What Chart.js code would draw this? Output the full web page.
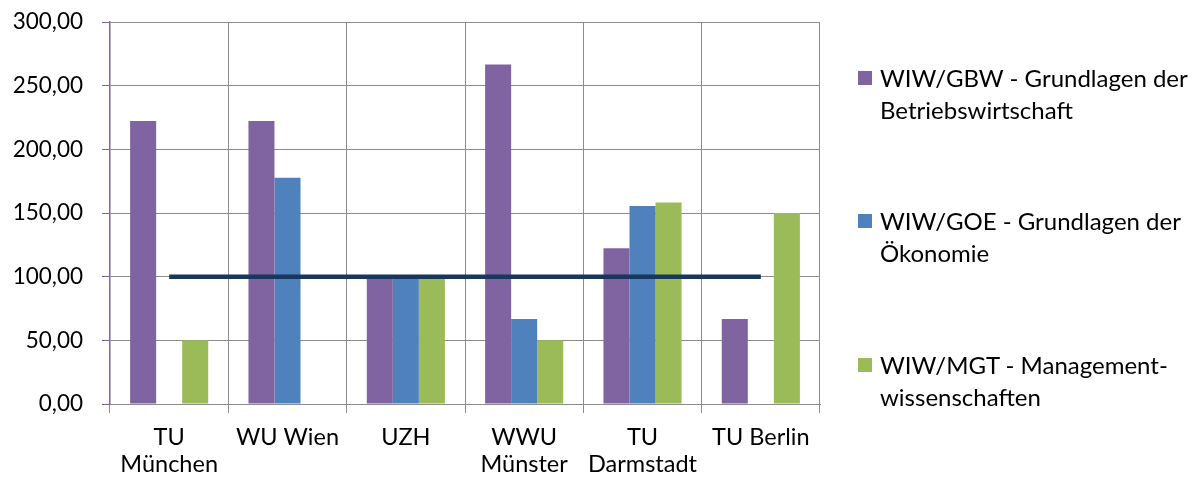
<!DOCTYPE html>
<html>
<head>
<meta charset="utf-8">
<script src="https://cdn.jsdelivr.net/npm/chart.js@4/dist/chart.umd.min.js"></script>
<style>
  html, body { margin: 0; padding: 0; background: #fff; }
  #wrap { position: relative; width: 1195px; height: 484px; }
  #c { position: absolute; left: 0; top: 0; }
  .lg { position: absolute; left: 858px; font-family: Lato, "Open Sans", sans-serif; font-size: 24px; line-height: 32px; color: #000; white-space: pre; }
  .lg .sw { position: absolute; left: 0; top: 9px; width: 14px; height: 14px; }
  .lg .tx { position: absolute; left: 22px; top: 0; }
</style>
</head>
<body>
<div id="wrap">
  <canvas id="c" width="1195" height="484"></canvas>
</div>
<script>
const categories = [["TU", "München"], "WU Wien", "UZH", ["WWU", "Münster"], ["TU", "Darmstadt"], "TU Berlin"];
const seriesNames = [
  "WIW/GBW - Grundlagen der\nBetriebswirtschaft",
  "WIW/GOE - Grundlagen der\nÖkonomie",
  "WIW/MGT - Management-\nwissenschaften"
];
const gbwValues = [222.22, 222.22, 100, 266.67, 122.22, 66.67];
const goeValues = [0, 177.78, 100, 66.67, 155.56, 0];
const mgtValues = [50, 0, 100, 50, 158.33, 150];
const referenceValues = [100, 100, 100, 100, 100, 100];
const seriesColors = ["#8064A2", "#4F81BD", "#9BBB59"];
const yMin = 0, yMax = 300, yStep = 50;

const FONT = 'Lato, "Open Sans", sans-serif';
const barSeries = [gbwValues, goeValues, mgtValues];

const datasets = barSeries.map((vals, i) => ({
  type: 'bar',
  label: seriesNames[i],
  data: vals,
  backgroundColor: seriesColors[i],
  borderWidth: 0,
  categoryPercentage: 0.66,
  barPercentage: 1.0,
  order: 2
}));
datasets.push({
  type: 'line',
  label: 'Referenz',
  data: referenceValues,
  borderColor: '#17375E',
  borderWidth: 4.5,
  pointRadius: 0,
  fill: false,
  tension: 0,
  order: 0
});

new Chart(document.getElementById('c'), {
  type: 'bar',
  data: { labels: categories, datasets: datasets },
  options: {
    responsive: false,
    animation: false,
    devicePixelRatio: 1,
    layout: { padding: { left: 0, right: 375, top: 22, bottom: 0 } },
    plugins: { legend: { display: false }, tooltip: { enabled: false } },
    scales: {
      x: {
        offset: true,
        grid: { offset: true, color: '#8C8C8C', lineWidth: 1, tickLength: 9, drawTicks: true },
        border: { color: '#8C8C8C', width: 1 },
        ticks: { color: '#000', font: { family: FONT, size: 23.5, lineHeight: 1.15 }, padding: 11, maxRotation: 0, autoSkip: false },
        afterFit: (s) => { s.height = 80; s.paddingLeft = 0; s.paddingRight = 0; }
      },
      y: {
        min: yMin, max: yMax,
        grid: { color: '#8C8C8C', lineWidth: 1, tickLength: 8, tickColor: '#7F64A0' },
        border: { color: '#7F64A0', width: 1.5 },
        ticks: {
          stepSize: yStep,
          color: '#000',
          font: { family: FONT, size: 22.5 },
          padding: 19,
          callback: (v) => Number(v).toFixed(2).replace('.', ',')
        },
        afterFit: (s) => { s.width = 110; s.paddingTop = 0; s.paddingBottom = 0; }
      }
    }
  }
});

const wrap = document.getElementById('wrap');
const legendTops = [62, 205, 349];
seriesNames.forEach((name, i) => {
  const d = document.createElement('div');
  d.className = 'lg';
  d.style.top = legendTops[i] + 'px';
  const sw = document.createElement('span');
  sw.className = 'sw';
  sw.style.background = seriesColors[i];
  const tx = document.createElement('span');
  tx.className = 'tx';
  tx.textContent = name;
  d.appendChild(sw);
  d.appendChild(tx);
  wrap.appendChild(d);
});
</script>
</body>
</html>
